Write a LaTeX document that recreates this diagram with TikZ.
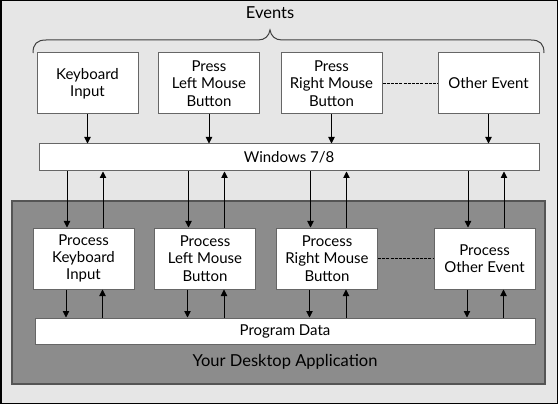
\documentclass[tikz,border=0pt]{standalone}
\usepackage{fontspec}
\setmainfont{Lato}
\usetikzlibrary{arrows.meta}
\definecolor{bgout}{HTML}{E6E6E6}
\definecolor{bgapp}{HTML}{8C8C8C}
\definecolor{appline}{HTML}{555555}
\definecolor{boxline}{HTML}{666666}
\begin{document}
\begin{tikzpicture}[x=1pt,y=-1pt,
  box/.style={draw=boxline,line width=1pt,fill=white,inner sep=0pt,align=center,
    font=\fontsize{15}{17.3}\selectfont},
  evbox/.style={box,minimum width=101pt,minimum height=61pt},
  bar/.style={box,minimum width=500pt},
  arr/.style={line width=0.9pt,-{Triangle[width=6.5pt,length=6.5pt]}},
  link/.style={line width=0.9pt,dash pattern=on 3pt off 1.2pt},
  big/.style={font=\fontsize{16.5}{20}\selectfont,inner sep=0pt}]
\useasboundingbox (0,0) rectangle (558,404);
\draw[fill=bgout,line width=1.5pt] (0.75,0.75) rectangle (557.25,403.25);
\draw[fill=bgapp,draw=appline,line width=1.5pt] (12,201) rectangle (545,384);
% title and brace
\node[big] (events) at (270,13) {Events};
\coordinate (bl) at (33,53);
\coordinate (bt) at (270,30);
\coordinate (br) at (544,53);
\draw[line width=1pt,draw=black!75] (bl) .. controls (33,44) and (37,40) .. (46,40) -- (258,40)
  .. controls (265,40) and (269,36) .. (bt) .. controls (271,36) and (275,40) .. (282,40)
  -- (531,40) .. controls (540,40) and (544,44) .. (br);
% event boxes
\node[evbox] (ev1) at (87.5,83.5) {Keyboard\\Input};
\node[evbox] (ev2) at (209,83.5) {Press\\Left Mouse\\Button};
\node[evbox] (ev3) at (331.5,83.5) {Press\\Right Mouse\\Button};
\node[evbox] (ev4) at (488.5,83.5) {Other Event};
\draw[link] (ev3.east) -- (ev4.west);
% windows bar
\node[bar,minimum height=27pt] (win) at (289,157.5) {Windows 7/8};
\foreach \e in {ev1,ev2,ev3,ev4}{
  \draw[arr] (\e.south) -- (\e.south |- win.north);
}
% process boxes
\node[evbox] (p1) at (83.5,258.5) {Process\\Keyboard\\Input};
\node[evbox] (p2) at (205,258.5) {Process\\Left Mouse\\Button};
\node[evbox] (p3) at (327,258.5) {Process\\Right Mouse\\Button};
\node[evbox] (p4) at (484.5,258.5) {Process\\Other Event};
\draw[link] (p3.east) -- (p4.west);
% program data
\node[bar,minimum height=26pt] (data) at (285,331) {Program Data};
\foreach \p in {p1,p2,p3,p4}{
  \draw[arr] ([xshift=-16.5pt]\p.north |- win.south) -- ([xshift=-16.5pt]\p.north);
  \draw[arr] ([xshift=19.5pt]\p.north) -- ([xshift=19.5pt]\p.north |- win.south);
  \draw[arr] ([xshift=-17.5pt]\p.south) -- ([xshift=-17.5pt]\p.south |- data.north);
  \draw[arr] ([xshift=19pt]\p.south |- data.north) -- ([xshift=19pt]\p.south);
}
\node[big] (app) at (285,362) {Your Desktop Application};
\end{tikzpicture}
\end{document}
